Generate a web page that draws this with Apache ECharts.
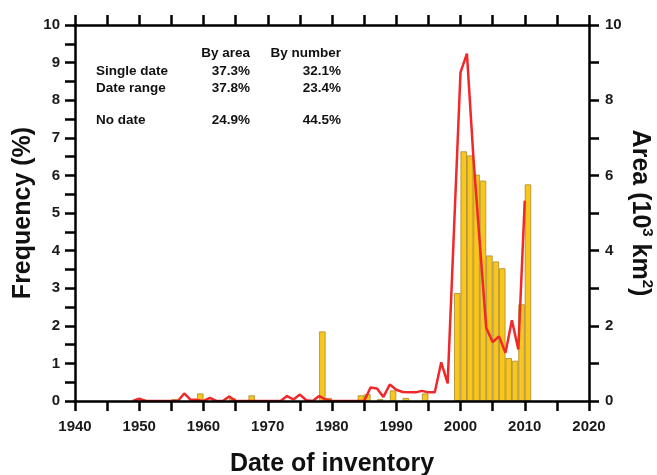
<!DOCTYPE html>
<html>
<head>
<meta charset="utf-8">
<script src="https://cdn.jsdelivr.net/npm/echarts/dist/echarts.min.js"></script>
<style>
html, body { margin: 0; padding: 0; background: #fff; }
#main { width: 657px; height: 475px; }
</style>
</head>
<body>
<div id="main"></div>
<script>
// frequency bars: each bar covers [year, year+1]
var barYears = [1950, 1955, 1959, 1964, 1967, 1978, 1979, 1984, 1985, 1987, 1989, 1991, 1994,
                1999, 2000, 2001, 2002, 2003, 2004, 2005, 2006, 2007, 2008, 2009, 2010];
var barFreq  = [0.05, 0.05, 0.2, 0.08, 0.15, 1.85, 0.08, 0.15, 0.18, 0.05, 0.28, 0.08, 0.2,
                2.87, 6.64, 6.53, 6.02, 5.86, 3.87, 3.71, 3.53, 1.14, 1.07, 2.57, 5.76];

// area line (10^3 km2)
var lineYears = [1949, 1950, 1951, 1952, 1953, 1954, 1955, 1956, 1957, 1958, 1959,
                 1960, 1961, 1962, 1963, 1964, 1965, 1966, 1967, 1968, 1969,
                 1970, 1971, 1972, 1973, 1974, 1975, 1976, 1977, 1978, 1979,
                 1980, 1981, 1982, 1983, 1984, 1985, 1986, 1987, 1988, 1989,
                 1990, 1991, 1992, 1993, 1994, 1995, 1996, 1997, 1998, 1999,
                 2000, 2001, 2002, 2003, 2004, 2005, 2006, 2007, 2008, 2009, 2010];
var lineArea  = [0, 0.06, 0, 0, 0, 0, 0, 0, 0.2, 0.03, 0.03,
                 0, 0.08, 0, 0, 0.12, 0, 0, 0, 0, 0,
                 0, 0, 0, 0.13, 0.04, 0.17, 0.02, 0, 0.13, 0.04,
                 0, 0, 0, 0, 0, 0, 0.36, 0.33, 0.11, 0.44,
                 0.3, 0.24, 0.23, 0.23, 0.27, 0.23, 0.23, 1.03, 0.47, 4.6,
                 8.74, 9.24, 6.5, 4.2, 1.95, 1.57, 1.72, 1.28, 2.15, 1.37, 5.33];

// inset table
var tableHeads = ['By area', 'By number'];
var tableRows  = ['Single date', 'Date range', 'No date'];
var byArea     = ['37.3%', '37.8%', '24.9%'];
var byNumber   = ['32.1%', '23.4%', '44.5%'];

var FONT = '"Liberation Sans", Arial, sans-serif';
var myChart = echarts.init(document.getElementById('main'));

var axisLine = { show: true, onZero: false, lineStyle: { color: '#000', width: 2.5 } };
var axisTick = { show: true, inside: false, length: 10, lineStyle: { color: '#000', width: 2.5 } };
var tickFont = { fontFamily: FONT, fontSize: 15, fontWeight: 'bold', color: '#1a1a1a' };
var titleFont = { fontFamily: FONT, fontSize: 25, fontWeight: 'bold', color: '#111' };

// table text as graphic elements
var rowY = [71, 88, 120];
var tFont = 'bold 13.5px ' + FONT;
var graphics = [];
tableHeads.forEach(function (h, i) {
    graphics.push({ type: 'text', x: [250, 341][i], y: 53,
        style: { text: h, font: tFont, fill: '#111', textAlign: 'right', textVerticalAlign: 'middle' } });
});
tableRows.forEach(function (r, i) {
    graphics.push({ type: 'text', x: 96, y: rowY[i],
        style: { text: r, font: tFont, fill: '#111', textAlign: 'left', textVerticalAlign: 'middle' } });
    graphics.push({ type: 'text', x: 250, y: rowY[i],
        style: { text: byArea[i], font: tFont, fill: '#111', textAlign: 'right', textVerticalAlign: 'middle' } });
    graphics.push({ type: 'text', x: 341, y: rowY[i],
        style: { text: byNumber[i], font: tFont, fill: '#111', textAlign: 'right', textVerticalAlign: 'middle' } });
});

var option = {
    animation: false,
    backgroundColor: '#fff',
    grid: { left: 75, right: 68, top: 25, bottom: 74, containLabel: false, outerBoundsMode: 'none' },
    graphic: graphics,
    xAxis: [{
        type: 'value', position: 'bottom', min: 1940, max: 2020, interval: 5, z: 5,
        axisLine: axisLine, axisTick: axisTick, splitLine: { show: false },
        axisLabel: Object.assign({ margin: 18, formatter: function (v) { return v % 10 === 0 ? v : ''; } }, tickFont),
        name: 'Date of inventory', nameLocation: 'middle', nameGap: 51, nameMoveOverlap: false,
        nameTextStyle: titleFont
    }, {
        type: 'value', position: 'top', min: 1940, max: 2020, interval: 5, z: 5,
        axisLine: axisLine, axisTick: axisTick, splitLine: { show: false },
        axisLabel: { show: false }
    }],
    yAxis: [{
        type: 'value', position: 'left', min: 0, max: 10, interval: 0.5, z: 5,
        axisLine: axisLine, axisTick: axisTick, splitLine: { show: false },
        axisLabel: Object.assign({ margin: 15, formatter: function (v) { return Math.abs(v - Math.round(v)) < 1e-6 ? Math.round(v) : ''; } }, tickFont),
        name: 'Frequency (%)', nameLocation: 'middle', nameRotate: 90, nameGap: 39, nameMoveOverlap: false,
        nameTextStyle: titleFont
    }, {
        type: 'value', position: 'right', min: 0, max: 10, interval: 1, z: 5,
        axisLine: axisLine, axisTick: axisTick, splitLine: { show: false },
        axisLabel: Object.assign({ margin: 16, formatter: function (v) { return v % 2 === 0 ? v : ''; } }, tickFont),
        name: 'Area (10{sup|3} km{sup|2})', nameLocation: 'middle', nameRotate: -90, nameGap: 36, nameMoveOverlap: false,
        nameTextStyle: Object.assign({ lineHeight: 30,
            rich: { sup: { fontFamily: FONT, fontSize: 15, fontWeight: 'bold', color: '#111', verticalAlign: 'top', lineHeight: 30 } }
        }, titleFont)
    }],
    series: [{
        name: 'Frequency',
        type: 'bar',
        xAxisIndex: 0, yAxisIndex: 0,
        barWidth: 6.4,
        itemStyle: { color: '#F8C61E', borderColor: '#A88A2A', borderWidth: 0.8 },
        data: barYears.map(function (y, i) { return [y + 0.5, barFreq[i]]; })
    }, {
        name: 'Area',
        type: 'line',
        xAxisIndex: 0, yAxisIndex: 1,
        symbol: 'none',
        lineStyle: { color: '#F0282A', width: 2.5 },
        data: lineYears.map(function (y, i) { return [y, lineArea[i]]; })
    }]
};

myChart.setOption(option);
</script>
</body>
</html>
